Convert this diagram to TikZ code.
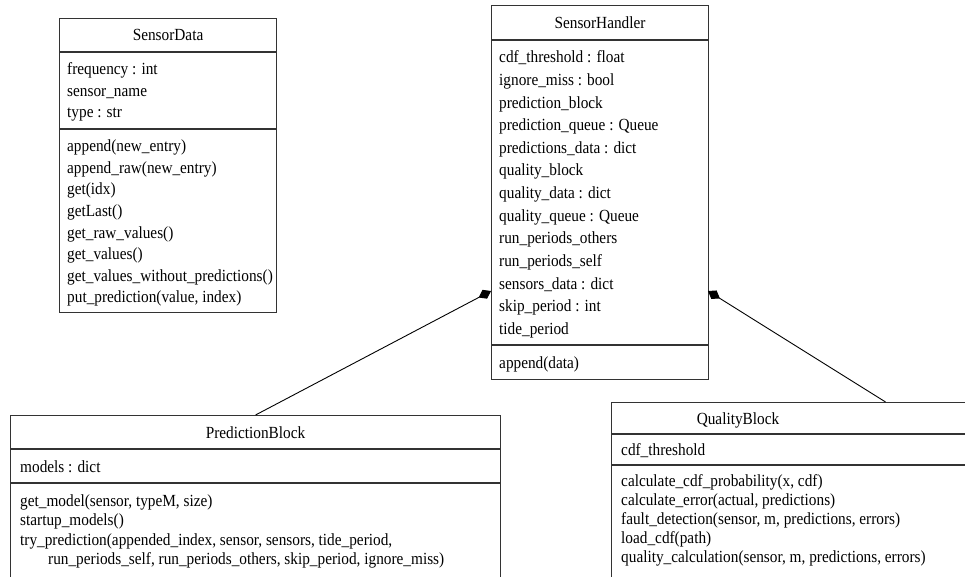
\documentclass[tikz,border=0pt]{standalone}
\usepackage{fontspec}
\setmainfont{Liberation Serif}[FakeStretch=0.9]
\usetikzlibrary{arrows.meta}
\newcommand\umlfont{\fontsize{17}{20}\selectfont}
\tikzset{
  classbox/.style={draw=black!80, line width=1.1pt, anchor=north west, inner sep=0pt},
  sepline/.style={draw=black!80, line width=1.1pt},
  ctitle/.style={anchor=base, inner sep=0pt, font=\umlfont},
  member/.style={anchor=base west, inner sep=0pt, font=\umlfont},
  composition/.style={draw=black, line width=0.9pt, -{Diamond[length=14pt,width=10pt]}},
}
\begin{document}
\begin{tikzpicture}[x=1pt,y=-1pt]
\useasboundingbox (0,0) rectangle (965,577);
\clip (0,0) rectangle (965,577);

% ---------- SensorData ----------
\node[classbox, minimum width=217pt, minimum height=294pt] (sd) at (59,18) {};
\node[ctitle] (sdt) at (sd.north |- 0,41) {SensorData};
\draw[sepline] (sd.west |- 0,52) -- (sd.east |- 0,52);
\draw[sepline] (sd.west |- 0,129) -- (sd.east |- 0,129);
\foreach \t [count=\i from 0] in {frequency : int, sensor\_name, type : str}
  \node[member] (sda\i) at (67,75+21.5*\i) {\t};
\foreach \t [count=\i from 0] in {append(new\_entry), append\_raw(new\_entry), get(idx), getLast(),
    get\_raw\_values(), get\_values(), get\_values\_without\_predictions(), {put\_prediction(value, index)}}
  \node[member] (sdm\i) at (67,152+21.5*\i) {\t};

% ---------- SensorHandler ----------
\node[classbox, minimum width=217pt, minimum height=374pt] (sh) at (491,5) {};
\node[ctitle] (sht) at (sh.north |- 0,29) {SensorHandler};
\draw[sepline] (sh.west |- 0,40) -- (sh.east |- 0,40);
\draw[sepline] (sh.west |- 0,345) -- (sh.east |- 0,345);
\foreach \t [count=\i from 0] in {cdf\_threshold : float, ignore\_miss : bool, prediction\_block,
    prediction\_queue : Queue, predictions\_data : dict, quality\_block, quality\_data : dict,
    quality\_queue : Queue, run\_periods\_others, run\_periods\_self, sensors\_data : dict,
    skip\_period : int, tide\_period}
  \node[member] (sha\i) at (499,63+22.6*\i) {\t};
\node[member] (shm0) at (499,368) {append(data)};

% ---------- PredictionBlock ----------
\node[classbox, minimum width=490pt, minimum height=220pt] (pb) at (10,415) {};
\node[ctitle] (pbt) at (pb.north |- 0,438) {PredictionBlock};
\draw[sepline] (pb.west |- 0,449) -- (pb.east |- 0,449);
\draw[sepline] (pb.west |- 0,483) -- (pb.east |- 0,483);
\node[member] (pba0) at (20,472) {models : dict};
\node[member] (pbm0) at (20,506) {get\_model(sensor, typeM, size)};
\node[member] (pbm1) at (20,525.5) {startup\_models()};
\node[member] (pbm2) at (20,545) {try\_prediction(appended\_index, sensor, sensors, tide\_period,};
\node[member] (pbm3) at (48,564.5) {run\_periods\_self, run\_periods\_others, skip\_period, ignore\_miss)};

% ---------- QualityBlock ----------
\node[classbox, minimum width=548pt, minimum height=240pt] (qb) at (611,402) {};
\node[ctitle] (qbt) at (738,424) {QualityBlock};
\draw[sepline] (qb.west |- 0,434) -- (qb.east |- 0,434);
\draw[sepline] (qb.west |- 0,465) -- (qb.east |- 0,465);
\node[member] (qba0) at (621,455) {cdf\_threshold};
\foreach \t [count=\i from 0] in {{calculate\_cdf\_probability(x, cdf)}, {calculate\_error(actual, predictions)},
    {fault\_detection(sensor, m, predictions, errors)}, load\_cdf(path),
    {quality\_calculation(sensor, m, predictions, errors)}}
  \node[member] (qbm\i) at (621,486+19.2*\i) {\t};

% ---------- compositions ----------
\coordinate (shl) at (491,291);
\coordinate (shr) at (708,291);
\draw[composition] (pb.north) -- (shl);
\draw[composition] (qb.north) -- (shr);
\end{tikzpicture}
\end{document}
